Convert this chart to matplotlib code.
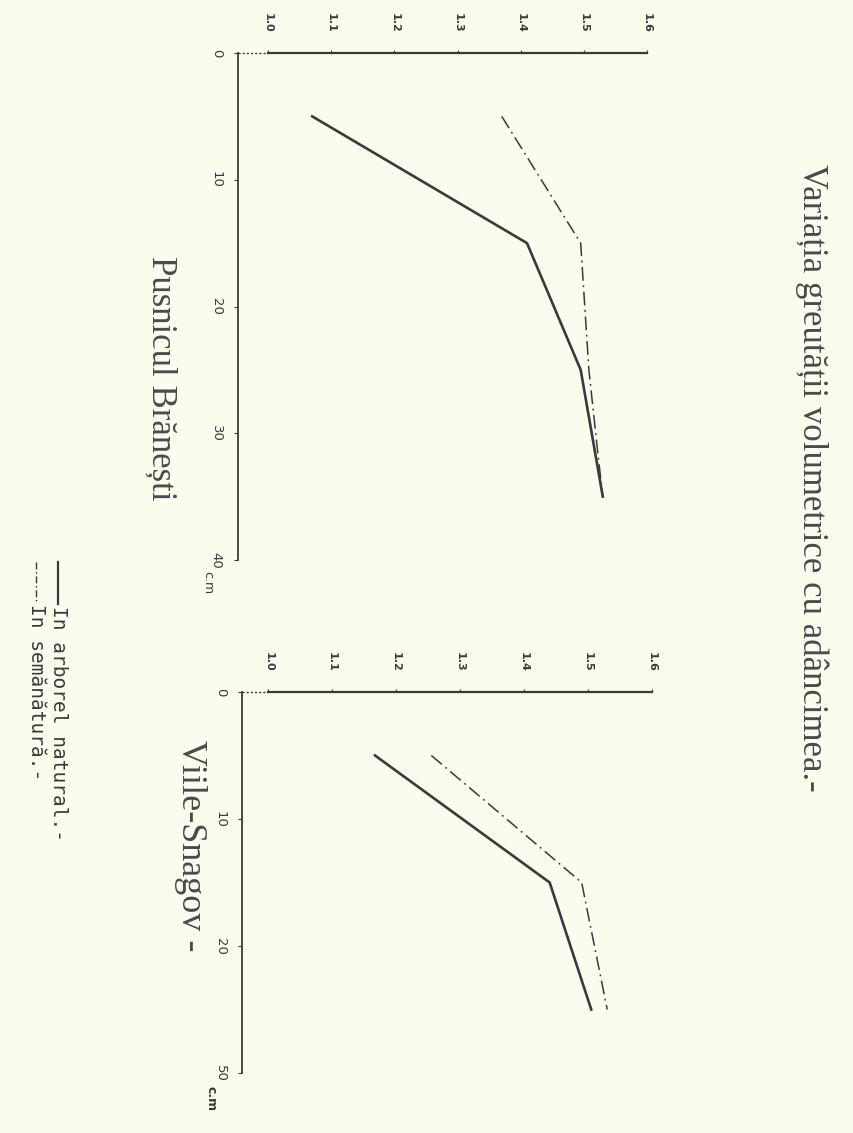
import matplotlib
matplotlib.use("Agg")
import matplotlib.pyplot as plt
from matplotlib.lines import Line2D

# ---- data ----
density_ticks = [1.0, 1.1, 1.2, 1.3, 1.4, 1.5, 1.6]
density_labels_left = ["1.0", "1.1", "1.2", "1.3", "1.4", "1.5", "1.6"]
density_labels_right = ["1.0", "1.1", "1.2", "1.3", "1.4", "1.5", "1.6"]

depth_ticks_left = [0, 10, 20, 30, 40]
depth_labels_left = ["0", "10", "20", "30", "40"]
depth_ticks_right = [0, 10, 20, 30]
depth_labels_right = ["0", "10", "20", "50"]

depth_branesti = [5, 15, 25, 35]
branesti_natural = [1.07, 1.41, 1.495, 1.53]
depth_branesti_sem = [5, 15, 25, 31.5, 35]
branesti_seman = [1.37, 1.495, 1.508, 1.522, 1.53]

depth_snagov = [5, 15, 25]
snagov_natural = [1.167, 1.44, 1.505]
snagov_seman = [1.255, 1.49, 1.53]

title = "Variația greutății volumetrice cu adâncimea.-"
panel_titles = ["Pusnicul Brănești", "Viile-Snagov -"]
legend_labels = ["In arborel natural.-", "In semănătură.-"]

# ---- style ----
BG = "#fbfbee"
INK = "#3a3a3a"
DASHDOT = (0, (9, 3, 1.2, 3))
W, H = 854, 1133

fig = plt.figure(figsize=(W / 100, H / 100), dpi=100, facecolor=BG)


def px_axes(left, top, right, bottom):
    return fig.add_axes([left / W, 1 - bottom / H, (right - left) / W, (bottom - top) / H])


def setup(ax, xlim0, dticks, dlabels, dmax, dlab):
    ax.set_facecolor("none")
    ax.set_xlim(xlim0, density_ticks[-1])
    ax.set_ylim(dmax, 0)
    for s in ["right", "bottom", "top"]:
        ax.spines[s].set_visible(False)
    ax.spines["left"].set_color(INK)
    ax.spines["left"].set_linewidth(1.3)
    ax.xaxis.tick_top()
    ax.set_xticks(density_ticks)
    ax.set_xticklabels(dlab, rotation=270, fontsize=8, fontweight="bold", color=INK)
    ax.tick_params(axis="x", direction="out", length=2.5, width=0.8, pad=12, colors=INK)
    ax.set_yticks(dticks)
    ax.set_yticklabels(dlabels, rotation=270, fontsize=9.5, color=INK, va="center")
    ax.tick_params(axis="y", direction="out", length=3, width=0.8, pad=8, colors=INK)
    # top axis: dotted part before the first tick, solid after
    ax.plot([xlim0, density_ticks[0]], [0, 0], color=INK, lw=1.0,
            linestyle=(0, (1.5, 1.5)), clip_on=False)
    ax.plot([density_ticks[0], density_ticks[-1]], [0, 0], color=INK, lw=1.6,
            clip_on=False)


# left panel: Pusnicul Branesti
ax1 = px_axes(238, 53, 647, 560)
setup(ax1, 0.9525, depth_ticks_left, depth_labels_left, 40, density_labels_left)
ax1.plot(branesti_natural, depth_branesti, color=INK, lw=1.9)
ax1.plot(branesti_seman, depth_branesti_sem, color=INK, lw=1.1, linestyle=DASHDOT)
ax1.text(-0.075, 40.9, "c.m", transform=ax1.get_yaxis_transform(), rotation=270,
         ha="center", va="top", fontsize=9, color=INK)

# right panel: Viile-Snagov
ax2 = px_axes(242, 692, 652, 1073)
setup(ax2, 0.959, depth_ticks_right, depth_labels_right, 30, density_labels_right)
ax2.plot(snagov_natural, depth_snagov, color=INK, lw=1.9)
ax2.plot(snagov_seman, depth_snagov, color=INK, lw=1.1, linestyle=DASHDOT)
ax2.text(-0.075, 31.0, "c.m", transform=ax2.get_yaxis_transform(), rotation=270,
         ha="center", va="top", fontsize=9, fontweight="bold", color=INK)

# titles
fig.text(812 / W, 1 - 478 / H, title, rotation=270, ha="center", va="center",
         fontsize=25, family="Liberation Serif", color="#4a4a4a")
fig.text(161 / W, 1 - 378 / H, panel_titles[0], rotation=270, ha="center", va="center",
         fontsize=25, family="Liberation Serif", color="#4a4a4a")
fig.text(190 / W, 1 - 846 / H, panel_titles[1], rotation=270, ha="center", va="center",
         fontsize=26, family="Liberation Serif", color="#4a4a4a")

# legend (drawn rotated like the rest of the sheet)
fig.add_artist(Line2D([58 / W, 58 / W], [1 - 562 / H, 1 - 604 / H], color=INK, lw=1.6))
fig.text(58 / W, 1 - 606 / H, legend_labels[0], rotation=270, ha="center", va="top",
         fontsize=14, family="DejaVu Sans Mono", color=INK)
fig.add_artist(Line2D([36 / W, 36 / W], [1 - 562 / H, 1 - 602 / H], color=INK, lw=1.0,
                      linestyle=(0, (5, 2, 1, 2))))
fig.text(36 / W, 1 - 604 / H, legend_labels[1], rotation=270, ha="center", va="top",
         fontsize=14, family="DejaVu Sans Mono", color=INK)

fig.savefig("out.png", dpi=100, facecolor=BG)
